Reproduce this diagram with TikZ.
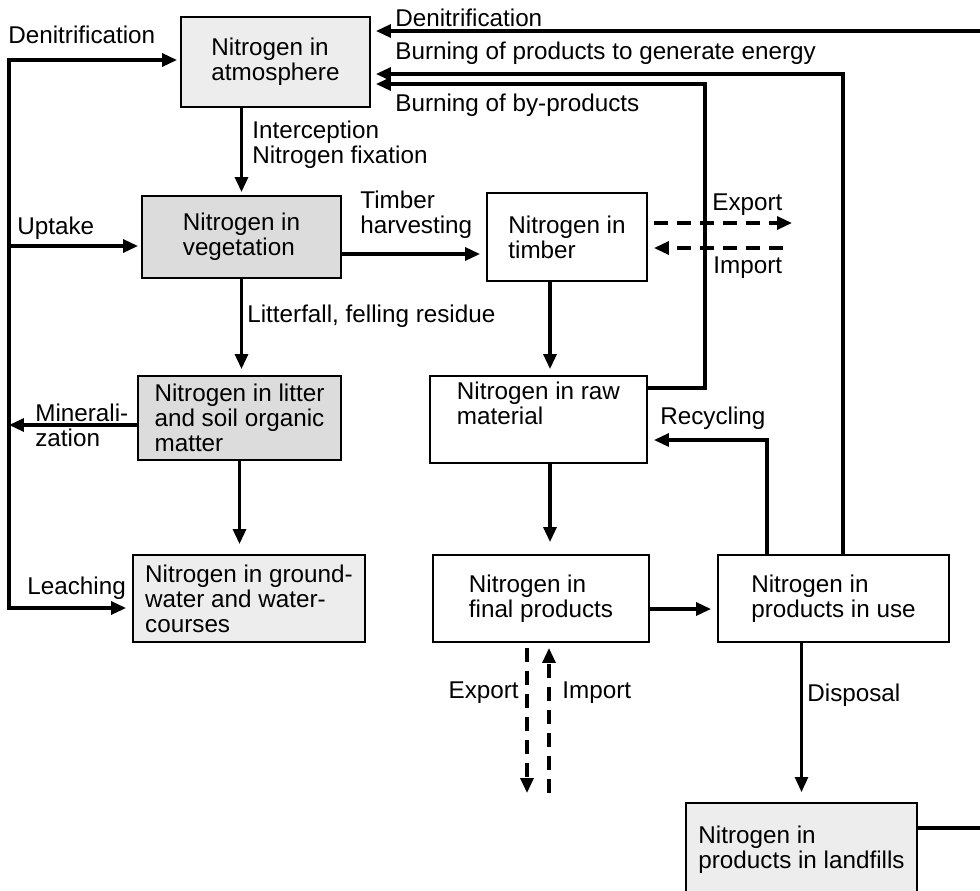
\documentclass[tikz,border=0pt]{standalone}
\usepackage{fontspec}
\setmainfont{Liberation Sans}
\usetikzlibrary{arrows.meta}
\definecolor{boxlight}{RGB}{237,237,237}
\definecolor{boxmid}{RGB}{220,220,220}

\begin{document}
\begin{tikzpicture}[x=0.02cm, y=-0.02cm,
    every node/.style={font=\fontsize{13.8}{14.2}\selectfont},
    pool/.style 2 args={draw, line width=1.1pt, align=left, inner sep=0pt,
        minimum width=#1, minimum height=#2},
    lbl/.style={inner sep=0pt, align=left},
    flow/.style={line width=1.8pt, shorten >=0.12cm,
        -{Triangle[length=0.3cm, width=0.26cm]}},
    link/.style={line width=1.8pt},
    trade/.style={flow, dash pattern=on 0.28cm off 0.18cm}]

    % Frame
    \clip (0,0) rectangle (980,890);
    \useasboundingbox (0,0) rectangle (980,890);

    % Pools
    \node[pool={3.78cm}{1.8cm}, fill=boxlight] (atmos) at (275.5,62) {Nitrogen in\\atmosphere};
    \node[pool={3.98cm}{1.64cm}, fill=boxmid] (veg) at (241.5,237) {Nitrogen in\\vegetation};
    \node[pool={3.2cm}{1.76cm}] (timber) at (567,237) {Nitrogen in\\timber};
    \node[pool={4.06cm}{1.68cm}, fill=boxmid] (litter) at (239.5,418) {Nitrogen in litter\\and soil organic\\matter};
    \node[pool={4.34cm}{1.74cm}] (raw) at (538.5,419.5) {Nitrogen in raw\\material\\\strut};
    \node[pool={4.64cm}{1.74cm}, fill=boxlight] (ground) at (249,598.5) {Nitrogen in ground-\\water and water-\\courses};
    \node[pool={4.32cm}{1.74cm}] (final) at (541,598.5) {Nitrogen in\\final products};
    \node[pool={4.62cm}{1.74cm}] (inuse) at (833.5,598.5) {Nitrogen in\\products in use};
    \node[pool={4.62cm}{1.88cm}, fill=boxlight] (landfill) at (801.5,850) {Nitrogen in\\products in landfills};

    % Guide points
    \coordinate (lTop) at (9,60);
    \coordinate (lUp) at (9,246);
    \coordinate (lMin) at (9,425);
    \coordinate (lBot) at (9,608);
    \coordinate (hRow) at (0,254);
    \coordinate (midCol) at (550,0);
    \coordinate (useRow) at (0,609);
    \coordinate (recyc) at (767,440);
    \coordinate (byRow) at (0,388);
    \coordinate (byTurn) at (705,84);
    \coordinate (enTurn) at (843,74);
    \coordinate (denTop) at (980,31);
    \coordinate (denBot) at (980,828);
    \coordinate (expRow) at (792,223);
    \coordinate (impRow) at (783,248);
    \coordinate (expCol) at (527,793);
    \coordinate (impCol) at (549,793);

    % Forest side
    \draw[flow, shorten >=0.06cm] (lBot) -- (lTop) -- (atmos.west |- lTop);
    \draw[flow] (lTop) -- (lBot) -- (ground.west |- lBot);
    \draw[flow, shorten >=0.06cm] (lUp) -- (veg.west |- lUp);
    \draw[flow, shorten >=0pt] (litter.west |- lMin) -- (lMin);
    \draw[flow, shorten >=0.06cm] (atmos.south -| veg.north) -- (veg.north);
    \draw[flow] (veg.east |- hRow) -- (timber.west |- hRow);
    \draw[flow] (veg.south) -- (veg.south |- litter.north);
    \draw[flow, shorten >=0.2cm] (litter.south) -- (litter.south |- ground.north);

    % Wood chain
    \draw[flow] (timber.south -| midCol) -- (raw.north -| midCol);
    \draw[flow, shorten >=0.24cm] (raw.south -| midCol) -- (final.north -| midCol);
    \draw[flow] (final.east |- useRow) -- (inuse.west |- useRow);
    \draw[flow, line width=1.4pt, shorten >=0.2cm] (inuse.south -| landfill.north) -- (landfill.north);
    \draw[flow] (inuse.north -| recyc) -- (recyc) -- (recyc -| raw.east);

    % Back to the atmosphere
    \draw[flow, shorten >=0.1cm] (raw.east |- byRow) -- (byTurn |- byRow) -- (byTurn) -- (atmos.east |- byTurn);
    \draw[flow, shorten >=0.1cm] (inuse.north -| enTurn) -- (enTurn) -- (atmos.east |- enTurn);
    \draw[flow, shorten >=0.1cm] (denTop) -- (atmos.east |- denTop);
    \draw[link] (landfill.east |- denBot) -- (denBot);

    % Trade
    \draw[trade, shorten <=0.12cm, shorten >=0pt] (timber.east |- expRow) -- (expRow);
    \draw[trade] (impRow) -- (timber.east |- impRow);
    \draw[trade, shorten <=0.1cm, shorten >=0pt] (final.south -| expCol) -- (expCol);
    \draw[trade, shorten >=0.1cm] (impCol) -- (final.south -| impCol);

    % Labels
    \node[lbl, anchor=west] (tDenL) at (8,35) {Denitrification};
    \node[lbl, anchor=west] (tUp) at (17,228) {Uptake};
    \node[lbl, anchor=west] (tMin) at (35,425) {Minerali-\\zation};
    \node[lbl, anchor=west] (tLeach) at (27,588) {Leaching};
    \node[lbl, anchor=west] (tInt) at (252,145) {Interception\\Nitrogen fixation};
    \node[lbl, anchor=west] (tHarv) at (360,215) {Timber\\harvesting};
    \node[lbl, anchor=west] (tLitt) at (247,316) {Litterfall, felling residue};
    \node[lbl, anchor=west] (tDenT) at (395,18) {Denitrification};
    \node[lbl, anchor=west] (tEnergy) at (395,53) {Burning of products to generate energy};
    \node[lbl, anchor=west] (tBy) at (395,105) {Burning of by-products};
    \node[lbl, anchor=west] (tExpT) at (712,205) {Export};
    \node[lbl, anchor=west] (tImpT) at (713,268) {Import};
    \node[lbl, anchor=west] (tRec) at (660,418) {Recycling};
    \node[lbl, anchor=east] (tExpF) at (519,693) {Export};
    \node[lbl, anchor=west] (tImpF) at (562,693) {Import};
    \node[lbl, anchor=west] (tDisp) at (807,695) {Disposal};
\end{tikzpicture}
\end{document}
